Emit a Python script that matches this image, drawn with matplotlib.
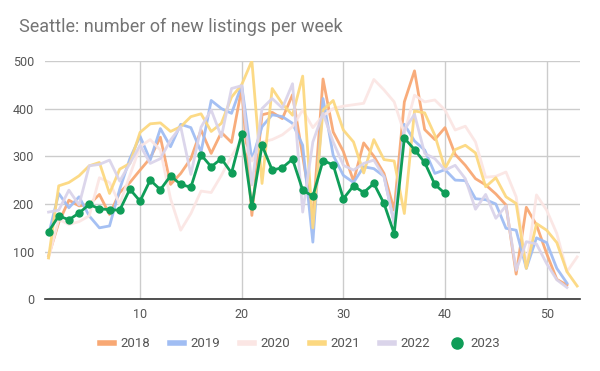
import matplotlib
matplotlib.use("Agg")
import matplotlib.pyplot as plt
from matplotlib.lines import Line2D

plt.rcParams['font.family'] = ['Roboto', 'DejaVu Sans']

# weekly new listings
y2018 = [91, 161, 208, 196, 199, 220, 178, 224, 245, 271, 296, 340, 241, 264, 295, 355, 306, 350, 329, 442,
         176, 387, 392, 379, 429, 300, 170, 462, 351, 310, 248, 328, 300, 264, 187, 414, 479, 356, 335, 360,
         304, 281, 253, 240, 221, 198, 53, 193, 156, 96, 42, 30]
y2019 = [136, 222, 192, 215, 175, 150, 154, 231, 295, 342, 292, 358, 320, 367, 360, 309, 417, 400, 390, 449,
         292, 362, 387, 383, 369, 323, 120, 421, 302, 260, 245, 278, 274, 258, 160, 367, 332, 313, 264, 272,
         250, 249, 211, 209, 200, 149, 145, 65, 129, 119, 65, 34]
y2020 = [87, 168, 157, 163, 175, 255, 245, 200, 260, 320, 335, 313, 211, 145, 180, 227, 224, 260, 300, 335,
         290, 330, 335, 345, 362, 397, 360, 385, 400, 405, 408, 411, 461, 439, 414, 348, 428, 414, 418, 397,
         355, 363, 330, 256, 258, 267, 215, 68, 219, 187, 138, 58, 89]
y2021 = [87, 238, 245, 259, 280, 287, 222, 273, 285, 350, 368, 370, 352, 362, 383, 389, 352, 369, 424, 450,
         500, 243, 442, 410, 386, 468, 150, 397, 417, 355, 330, 265, 335, 293, 290, 180, 395, 391, 344, 274,
         314, 323, 307, 236, 255, 215, 201, 65, 159, 145, 119, 58, 28]
y2022 = [183, 187, 229, 198, 280, 283, 292, 248, 285, 323, 285, 295, 334, 362, 262, 361, 397, 341, 442, 448,
         240, 400, 421, 401, 452, 183, 330, 390, 330, 281, 271, 285, 292, 257, 160, 355, 388, 306, 295, 271,
         281, 253, 189, 220, 170, 196, 61, 121, 116, 75, 41, 25]
y2023 = [142, 175, 167, 181, 199, 190, 188, 187, 231, 206, 250, 230, 259, 241, 235, 303, 278, 295, 265, 347,
         195, 323, 271, 276, 294, 229, 216, 291, 282, 211, 238, 224, 243, 201, 138, 338, 314, 287, 241, 222]

years = ['2018', '2019', '2020', '2021', '2022']
series = [y2018, y2019, y2020, y2021, y2022]
colors = ['#f8a874', '#a0bdf3', '#fbe6e4', '#fcd880', '#dad4ea']
green = '#0f9d58'

fig = plt.figure(figsize=(6, 3.71), dpi=100)
ax = fig.add_axes([0.075, 0.193, 0.892, 0.643])

for name, vals, c in zip(years, series, colors):
    weeks = range(1, len(vals) + 1)
    ax.plot(weeks, vals, color=c, lw=2, alpha=0.95)

ax.plot(range(1, len(y2023) + 1), y2023, color=green, lw=2, marker='o', ms=5, zorder=5)

ax.set_xlim(0.65, 53.3)
ax.set_ylim(0, 500)
ax.set_xticks([10, 20, 30, 40, 50])
ax.set_yticks(range(0, 501, 100))
ax.grid(True, color='#cccccc', lw=1)
ax.set_axisbelow(True)
for s in ['top', 'right', 'left']:
    ax.spines[s].set_visible(False)
ax.spines['bottom'].set_color('#333333')
ax.spines['bottom'].set_linewidth(1.2)
ax.tick_params(length=0, labelsize=9, colors='#555555', pad=6)
ax.tick_params(axis='y', pad=8)

fig.text(0.032, 0.915, 'Seattle: number of new listings per week', fontsize=13, color='#757575')

handles = [Line2D([], [], color=c, lw=4) for c in colors]
handles.append(Line2D([], [], color=green, marker='o', ms=8, lw=0))
leg = fig.legend(handles, years + ['2023'], loc='center', bbox_to_anchor=(0.5, 0.073), ncol=6,
                 frameon=False, fontsize=9.5, handlelength=1.05, handletextpad=0.45, columnspacing=1.55)
for t in leg.get_texts():
    t.set_color('#555555')

fig.savefig('out.png', dpi=100)
